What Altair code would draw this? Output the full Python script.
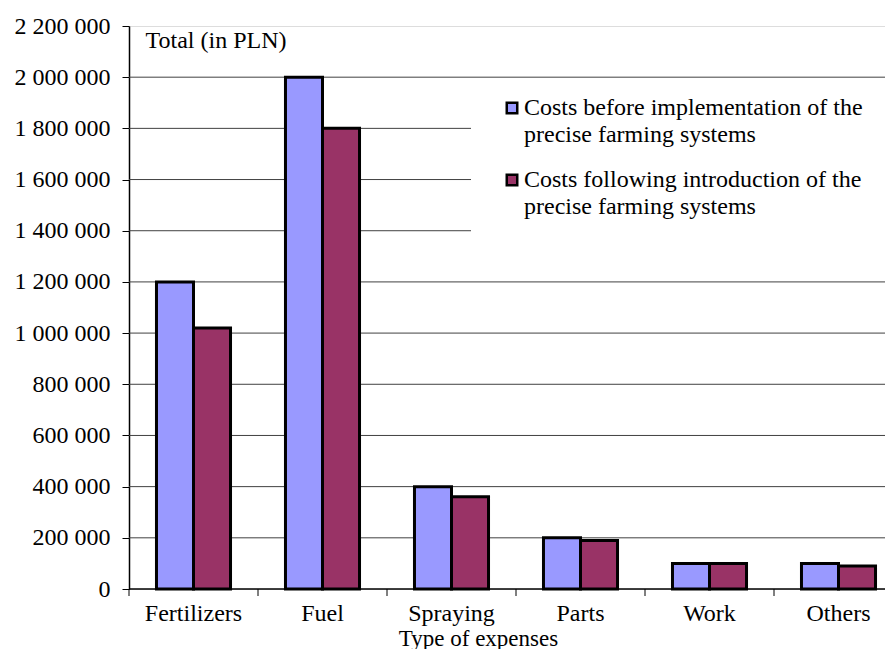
import altair as alt
import pandas as pd

categories = ["Fertilizers", "Fuel", "Spraying", "Parts", "Work", "Others"]
series = [
    "Costs before implementation of the precise farming systems",
    "Costs following introduction of the precise farming systems",
]
series_lines = [
    ["Costs before implementation of the", "precise farming systems"],
    ["Costs following introduction of the", "precise farming systems"],
]
before = [1200000, 2000000, 400000, 200000, 100000, 100000]
after = [1020000, 1800000, 360000, 190000, 100000, 90000]
colors = ["#9999FF", "#993366"]
y_ticks = list(range(0, 2200001, 200000))
grid_values = y_ticks[1:-1]

rows = []
for i, c in enumerate(categories):
    rows.append({"cat": c, "series": series[0], "value": before[i]})
    rows.append({"cat": c, "series": series[1], "value": after[i]})
df = pd.DataFrame(rows)
cat_df = pd.DataFrame({"cat": categories})
grid_df = pd.DataFrame({"value": grid_values})

FONT = "Liberation Serif"
W, H = 756, 563
STEP = 129

color_scale = alt.Scale(domain=series, range=colors)
x_scale = alt.Scale(domain=categories, range=[0, STEP * len(categories)],
                    paddingInner=0.426, paddingOuter=0.213)
y_scale = alt.Scale(domain=[0, 2200000], nice=False)

y_axis = alt.Axis(values=y_ticks, title="Total (in PLN)", titleFont=FONT,
                  titleFontSize=24, titleFontWeight="normal", titleColor="black",
                  titleAngle=0, titleAlign="left", titleBaseline="middle",
                  titleX=16, titleY=14,
                  labelFont=FONT, labelFontSize=24, labelColor="black",
                  labelExpr="replace(replace(format(datum.value, ','), ',', ' '), ',', ' ')",
                  labelPadding=12, tickSize=7, tickColor="black",
                  domainColor="black", domainWidth=1.5, grid=False)

grid = alt.Chart(grid_df).mark_rule(color="#404040", strokeWidth=1).encode(
    y=alt.Y("value:Q", scale=y_scale, axis=y_axis),
    x=alt.value(0), x2=alt.value(W))

bars = alt.Chart(df).mark_bar(stroke="black", strokeWidth=3).encode(
    x=alt.X("cat:N", sort=categories, scale=x_scale,
            axis=alt.Axis(title="Type of expenses", titleFont=FONT, titleFontSize=23,
                          titleFontWeight="normal", titleColor="black",
                          titleX=349, titleY=56, titleBaseline="alphabetic",
                          labelFont=FONT, labelFontSize=24, labelColor="black",
                          labelAngle=0, labelPadding=12, ticks=False,
                          domain=False, grid=False)),
    xOffset=alt.XOffset("series:N", sort=series, scale=alt.Scale(paddingInner=0, paddingOuter=0)),
    y=alt.Y("value:Q", scale=y_scale, axis=y_axis),
    color=alt.Color("series:N", scale=color_scale, legend=None),
)

# x-axis baseline and boundary ticks (kept inside the visible width)
x_domain = alt.Chart(cat_df.head(1)).mark_rule(color="black", strokeWidth=1.5).encode(
    x=alt.value(0), x2=alt.value(W), y=alt.value(H))
x_ticks = alt.Chart(cat_df).mark_rule(color="black", strokeWidth=1, xOffset=-STEP / 2).encode(
    x=alt.X("cat:N", sort=categories, scale=x_scale),
    y=alt.value(H), y2=alt.value(H + 7))

layers = [grid, bars, x_domain, x_ticks]

# legend background box (white, covers gridlines)
layers.append(alt.Chart(cat_df.head(1)).mark_rect(fill="white").encode(
    x=alt.value(342), x2=alt.value(W), y=alt.value(60), y2=alt.value(212)))

sym_y = [82, 154]
for j, s in enumerate(series):
    d = pd.DataFrame({"series": [s], "label": [series_lines[j]]})
    layers.append(alt.Chart(d).mark_square(size=110, stroke="black", strokeWidth=2.5, opacity=1).encode(
        x=alt.value(383), y=alt.value(sym_y[j]),
        color=alt.Color("series:N", scale=color_scale, legend=None)))
    layers.append(alt.Chart(d).mark_text(font=FONT, fontSize=24, align="left",
                                         baseline="middle", lineHeight=27, color="black").encode(
        x=alt.value(395), y=alt.value(sym_y[j]), text="label"))

chart = alt.layer(*layers).properties(
    width=W, height=H,
    autosize=alt.AutoSizeParams(type="none"),
    padding={"left": 121, "top": 18, "right": 0, "bottom": 60},
).configure_view(stroke=None).configure(background="white")

chart.save("out.html", embed_options={"renderer": "svg", "actions": False})
